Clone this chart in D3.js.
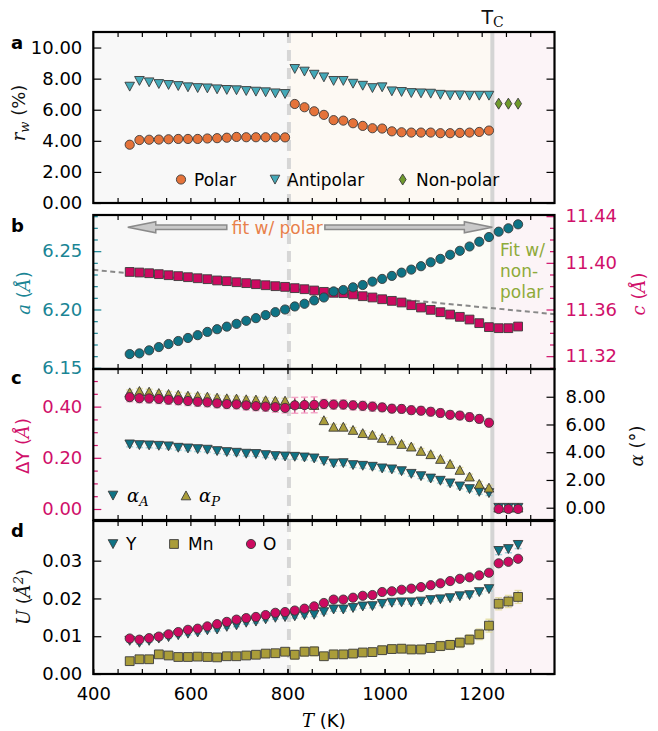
<!DOCTYPE html>
<html><head><meta charset="utf-8">
<script src="https://cdn.jsdelivr.net/npm/d3@7"></script>
<style>body{margin:0;background:#fff} svg{display:block} text{font-family:"DejaVu Sans",sans-serif}</style>
</head><body><svg id="c" width="658" height="731"></svg>
<script>
// ---------------- data ----------------
const temps = [475,495,515,535,555,575,595,615,635,655,675,695,715,735,755,775,795,815,835,855,875,895,915,935,955,975,995,1015,1035,1055,1075,1095,1115,1135,1155,1175,1195,1215];
const tempsNP = [1235,1255,1275];
const tempsAll = temps.concat(tempsNP);

// panel a: weighted R (%)
const rwPolar = [3.75,4.05,4.07,4.08,4.10,4.12,4.12,4.12,4.15,4.17,4.20,4.25,4.23,4.23,4.23,4.23,4.22,6.37,6.16,5.90,5.67,5.33,5.30,5.13,4.96,4.81,4.79,4.61,4.55,4.53,4.53,4.53,4.49,4.49,4.51,4.53,4.57,4.66];
const rwAntipolar = [7.49,7.86,7.77,7.66,7.60,7.53,7.45,7.40,7.38,7.32,7.28,7.26,7.21,7.17,7.13,7.06,7.02,8.63,8.46,8.26,8.09,7.86,7.86,7.68,7.55,7.40,7.45,7.19,7.15,7.08,7.06,7.04,6.97,6.93,6.93,6.91,6.91,6.91];
const rwNonPolar = [6.39,6.39,6.39];

// panel b: lattice parameters (Å)
const latA = [6.1618,6.1624,6.1650,6.1678,6.1704,6.1730,6.1756,6.1780,6.1808,6.1831,6.1853,6.1877,6.1903,6.1926,6.1952,6.1977,6.2000,6.2026,6.2049,6.2078,6.2103,6.2155,6.2167,6.2190,6.2210,6.2239,6.2262,6.2288,6.2316,6.2342,6.2371,6.2405,6.2434,6.2469,6.2503,6.2540,6.2581,6.2621,6.2667,6.2696,6.2730];
const latC = [11.3922,11.3917,11.3911,11.3903,11.3894,11.3886,11.3877,11.3868,11.3860,11.3849,11.3843,11.3834,11.3826,11.3817,11.3808,11.3800,11.3794,11.3783,11.3774,11.3763,11.3751,11.3743,11.3740,11.3729,11.3714,11.3703,11.3688,11.3674,11.3660,11.3637,11.3617,11.3597,11.3577,11.3557,11.3537,11.3514,11.3483,11.3449,11.3440,11.3440,11.3454];
const fitT = [400,1350];
const fitC = [11.394,11.356];

// panel c: ΔY (Å) and tilt angles (deg)
const dY = [0.437,0.433,0.432,0.430,0.427,0.425,0.422,0.419,0.417,0.413,0.410,0.409,0.405,0.402,0.400,0.398,0.395,0.405,0.406,0.407,0.410,0.408,0.408,0.405,0.403,0.400,0.397,0.392,0.391,0.386,0.384,0.380,0.375,0.368,0.365,0.359,0.352,0.337,0,0,0];
const dYerr = [0.018,0.018,0.018,0.018,0.018,0.018,0.018,0.018,0.018,0.018,0.018,0.018,0.018,0.018,0.018,0.02,0.02,0.031,0.031,0.031,0.018,0.018,0.018,0.018,0.018,0.018,0.016,0.016,0.016,0.016,0.016,0.016,0.016,0.016,0.016,0.016,0.016,0.016,0.008,0.008,0.008];
const alphaA = [4.57,4.52,4.50,4.47,4.43,4.33,4.28,4.23,4.19,4.09,4.02,3.97,3.90,3.88,3.80,3.73,3.70,3.68,3.63,3.56,3.37,3.20,3.22,3.08,3.03,2.96,2.84,2.77,2.64,2.45,2.28,2.11,1.95,1.76,1.54,1.35,1.15,1.06,0,0,0];
const alphaP = [8.31,8.41,8.36,8.26,8.19,8.14,8.07,8.05,8.00,7.93,7.88,7.86,7.81,7.79,7.74,7.71,7.71,7.47,7.47,7.40,6.30,5.83,5.83,5.60,5.37,5.25,5.03,4.85,4.59,4.40,4.09,3.85,3.51,3.15,2.72,2.24,1.71,1.44,0,0,0];
const alphaErr = 0.18;

// panel d: ADPs (Å^2)
const uY = [0.0088,0.0083,0.0088,0.0094,0.0098,0.0103,0.0107,0.0110,0.0116,0.0118,0.0125,0.0129,0.0136,0.0139,0.0145,0.0149,0.0151,0.0153,0.0156,0.0157,0.0164,0.0171,0.0171,0.0175,0.0179,0.0180,0.0186,0.0189,0.0190,0.0190,0.0192,0.0196,0.0198,0.0201,0.0206,0.0209,0.0217,0.0225,0.0326,0.0331,0.0342];
const uYerr = [0.0004,0.0004,0.0004,0.0004,0.0004,0.0004,0.0004,0.0004,0.0004,0.0004,0.0004,0.0004,0.0004,0.0004,0.0004,0.0004,0.0004,0.0005,0.0005,0.0005,0.0005,0.0005,0.0005,0.0005,0.0005,0.0005,0.0005,0.0005,0.0005,0.0005,0.0005,0.0005,0.0005,0.0005,0.0005,0.0005,0.0005,0.0005,0.0010,0.0010,0.0010];
const uMn = [0.0034,0.0039,0.0039,0.0052,0.0049,0.0045,0.0045,0.0046,0.0045,0.0044,0.0047,0.0047,0.0049,0.0051,0.0054,0.0055,0.0059,0.0051,0.0059,0.0060,0.0047,0.0052,0.0052,0.0054,0.0057,0.0058,0.0063,0.0066,0.0067,0.0065,0.0065,0.0069,0.0074,0.0077,0.0083,0.0091,0.0105,0.0128,0.0186,0.0192,0.0204];
const uMnErr = [0.0004,0.0004,0.0004,0.0004,0.0004,0.0004,0.0004,0.0004,0.0004,0.0004,0.0004,0.0004,0.0004,0.0004,0.0004,0.0004,0.0005,0.0012,0.0012,0.0012,0.0010,0.0010,0.0010,0.0010,0.0010,0.0010,0.0011,0.0011,0.0011,0.0011,0.0011,0.0011,0.0012,0.0012,0.0013,0.0013,0.0014,0.0017,0.0016,0.0016,0.0017];
const uO = [0.0094,0.0091,0.0095,0.0099,0.0105,0.0111,0.0117,0.0120,0.0126,0.0132,0.0138,0.0144,0.0148,0.0151,0.0156,0.0162,0.0164,0.0168,0.0173,0.0179,0.0188,0.0197,0.0197,0.0202,0.0207,0.0209,0.0217,0.0219,0.0223,0.0226,0.0230,0.0235,0.0240,0.0246,0.0252,0.0256,0.0261,0.0268,0.0293,0.0297,0.0305];
const uOerr = 0.0004;

// ticks
const xTickLabels = [400,600,800,1000,1200];
const ticksA = [0,2,4,6,8,10];
const ticksBa = [6.15,6.20,6.25];
const ticksBc = [11.32,11.36,11.40,11.44];
const ticksCd = [0,0.2,0.4];
const ticksCa = [0,2,4,6,8];
const ticksD = [0,0.01,0.02,0.03];

// ---------------- drawing ----------------
const svg = d3.select('#c');
const X0 = 93.3, X1 = 554.5;
const x = d3.scaleLinear().domain([400,1350]).range([X0,X1]);
const T_DASH = 803, T_C = 1222;

const P = {
  a:{top:32,bottom:203}, b:{top:215,bottom:369}, c:{top:369,bottom:520}, d:{top:521,bottom:674}
};
const yA  = d3.scaleLinear().domain([0,11]).range([P.a.bottom,P.a.top]);
const yBa = d3.scaleLinear().domain([6.149,6.281]).range([P.b.bottom,P.b.top]);
const yBc = d3.scaleLinear().domain([11.309,11.441]).range([P.b.bottom,P.b.top]);
const yCd = d3.scaleLinear().domain([-0.043,0.547]).range([P.c.bottom,P.c.top]);
const yCa = d3.scaleLinear().domain([-0.886,10]).range([P.c.bottom,P.c.top]);
const yD  = d3.scaleLinear().domain([0,0.0405]).range([P.d.bottom,P.d.top]);

const C = {
  orange:'#e5733a', lteal:'#44a9b8', green:'#6f9a2c', teal:'#0f7385', magenta:'#cc0a60',
  olive:'#aa9d3a', tealLab:'#1a8595', magLab:'#d0106a'
};

// backgrounds
function bg(p, mid){
  const g = svg.append('g');
  g.append('rect').attr('x',x(400)).attr('y',p.top).attr('width',x(T_DASH)-x(400)).attr('height',p.bottom-p.top).attr('fill','#f8f8f8');
  g.append('rect').attr('x',x(T_DASH)).attr('y',p.top).attr('width',x(T_C)-x(T_DASH)).attr('height',p.bottom-p.top).attr('fill',mid);
  g.append('rect').attr('x',x(T_C)).attr('y',p.top).attr('width',x(1350)-x(T_C)).attr('height',p.bottom-p.top).attr('fill','#fcf4f7');
  g.append('line').attr('x1',x(T_DASH)).attr('x2',x(T_DASH)).attr('y1',p.top).attr('y2',p.bottom)
    .attr('stroke','#d6d6d6').attr('stroke-width',4).attr('stroke-dasharray','11,7');
  g.append('line').attr('x1',x(T_C)).attr('x2',x(T_C)).attr('y1',p.top).attr('y2',p.bottom)
    .attr('stroke','#d4d4d4').attr('stroke-width',4);
}
bg(P.a,'#fdf9f3'); bg(P.b,'#fcfcf7'); bg(P.c,'#fcfcf7'); bg(P.d,'#fcfcf7');

// marker shapes
const shapes = {
  circle: r => `M${r},0A${r},${r} 0 1,1 ${-r},0A${r},${r} 0 1,1 ${r},0Z`,
  down: s => `M${-s},${-s*0.9}L${s},${-s*0.9}L0,${s*0.95}Z`,
  up: s => `M${-s},${s*0.9}L${s},${s*0.9}L0,${-s*0.95}Z`,
  square: s => `M${-s},${-s}H${s}V${s}H${-s}Z`,
  diamond: s => `M0,${-s*1.2}L${s*0.75},0L0,${s*1.2}L${-s*0.75},0Z`
};
function markers(xs, ys, ysc, d, fill){
  svg.append('g').selectAll('path').data(xs.map((t,i)=>[t,ys[i]])).join('path')
    .attr('transform', v=>`translate(${x(v[0])},${ysc(v[1])})`)
    .attr('d', d).attr('fill', fill).attr('stroke','#3a3a3a').attr('stroke-width',0.9);
}
function errbars(xs, ys, es, ysc, color, cap){
  const g = svg.append('g').attr('stroke',color).attr('stroke-width',1.4).attr('opacity',0.75);
  xs.forEach((t,i)=>{
    const e = Array.isArray(es) ? es[i] : es;
    const cx = x(t), y1 = ysc(ys[i]-e), y2 = ysc(ys[i]+e);
    g.append('line').attr('x1',cx).attr('x2',cx).attr('y1',y1).attr('y2',y2);
    g.append('line').attr('x1',cx-3.5).attr('x2',cx+3.5).attr('y1',y1).attr('y2',y1).attr('stroke',cap);
    g.append('line').attr('x1',cx-3.5).attr('x2',cx+3.5).attr('y1',y2).attr('y2',y2).attr('stroke',cap);
  });
}

// panel a
markers(temps, rwPolar, yA, shapes.circle(4.6), C.orange);
markers(temps, rwAntipolar, yA, shapes.down(4.8), C.lteal);
markers(tempsNP, rwNonPolar, yA, shapes.diamond(4.6), C.green);

// panel b
svg.append('path').datum(fitT.map((t,i)=>[t,fitC[i]]))
  .attr('d', d3.line().x(d=>x(d[0])).y(d=>yBc(d[1])))
  .attr('fill','none').attr('stroke','#888').attr('stroke-width',2).attr('stroke-dasharray','5,3.5');
markers(tempsAll, latC, yBc, shapes.square(4.4), C.magenta);
markers(tempsAll, latA, yBa, shapes.circle(4.6), C.teal);

// arrows + annotations in panel b
const arrowY = 6.2705;
function arrow(tTail, tHead){
  const xt = x(tTail), xh = x(tHead), yy = yBa(arrowY);
  const dir = Math.sign(xh-xt), hl = 28, sh = 2.2, hh = 5.5;
  const pts = [[xt,yy-sh],[xh-dir*hl,yy-sh],[xh-dir*hl,yy-hh],[xh,yy],[xh-dir*hl,yy+hh],[xh-dir*hl,yy+sh],[xt,yy+sh]];
  svg.append('path').attr('d','M'+pts.map(p=>p.join(',')).join('L')+'Z')
    .attr('fill','#c9c9c9').attr('stroke','#8a8a8a').attr('stroke-width',1.5);
}
arrow(675, 471);
arrow(877, 1222);
svg.append('text').attr('x',x(779)).attr('y',233.5).attr('text-anchor','middle')
  .attr('font-size',17).attr('fill','#e8804a').text('fit w/ polar');
const npText = svg.append('text').attr('font-size',17).attr('fill','#8eaa3a');
['Fit w/','non-','polar'].forEach((s,i)=>npText.append('tspan').attr('x',500).attr('y',256+i*21).text(s));

// panel c
errbars(tempsAll, alphaP, alphaErr, yCa, '#b8ae50', '#e0d890');
errbars(tempsAll, alphaA, alphaErr, yCa, '#2a8a9a', '#80c8d4');
errbars(tempsAll, dY, dYerr, yCd, C.magenta, '#f08ab8');
markers(tempsAll, alphaA, yCa, shapes.down(4.8), C.teal);
markers(tempsAll, alphaP, yCa, shapes.up(4.8), C.olive);
markers(tempsAll, dY, yCd, shapes.circle(4.6), C.magenta);

// panel d
errbars(tempsAll, uMn, uMnErr, yD, '#b8ae50', '#e0d890');
errbars(tempsAll, uY, uYerr, yD, '#2a8a9a', '#80c8d4');
errbars(tempsAll, uO, uOerr, yD, C.magenta, '#f08ab8');
markers(tempsAll, uMn, yD, shapes.square(4.4), C.olive);
markers(tempsAll, uY, yD, shapes.down(4.8), C.teal);
markers(tempsAll, uO, yD, shapes.circle(4.6), C.magenta);

// frames and axes
function styleAxis(g, color, labels){
  g.select('.domain').remove();
  g.selectAll('.tick line').attr('stroke',color).attr('stroke-width',1.2);
  g.selectAll('.tick text').attr('font-family','DejaVu Sans').attr('font-size',18).attr('fill',color);
  if(!labels) g.selectAll('.tick text').remove();
}
function yAxis(scale, side, major, minorStep, fmt, color, labels){
  const X = side==='left' ? X0 : X1;
  const mk = side==='left' ? d3.axisLeft : d3.axisRight;
  const g = svg.append('g').attr('transform',`translate(${X},0)`)
    .call(mk(scale).tickValues(major).tickSizeInner(-8).tickSizeOuter(0).tickPadding(11).tickFormat(d3.format(fmt)));
  styleAxis(g, color, labels);
  if(minorStep){
    const dom = scale.domain();
    const vals = d3.range(Math.ceil(dom[0]/minorStep-1e-6)*minorStep, dom[1]+1e-9, minorStep)
      .filter(v => !major.some(m=>Math.abs(m-v)<minorStep/10));
    const gm = svg.append('g').attr('transform',`translate(${X},0)`)
      .call(mk(scale).tickValues(vals).tickSizeInner(-4.5).tickSizeOuter(0).tickFormat(''));
    styleAxis(gm, color, false);
  }
}
function xAxes(p, labels){
  const minor = d3.range(450,1350,50);
  const gt = svg.append('g').attr('transform',`translate(0,${p.top})`)
    .call(d3.axisTop(x).tickValues(minor).tickSizeInner(-5).tickSizeOuter(0).tickFormat(''));
  styleAxis(gt,'#000',false);
  const gb = svg.append('g').attr('transform',`translate(0,${p.bottom})`)
    .call(d3.axisBottom(x).tickValues(minor).tickSizeInner(-5).tickSizeOuter(0).tickFormat(''));
  styleAxis(gb,'#000',false);
  if(labels){
    const gl = svg.append('g').attr('transform',`translate(0,${p.bottom})`)
      .call(d3.axisBottom(x).tickValues(xTickLabels).tickSizeInner(-5).tickSizeOuter(0).tickPadding(13).tickFormat(d3.format('d')));
    styleAxis(gl,'#000',true);
  }
}
Object.values(P).forEach((p,i)=>xAxes(p, i===3));

yAxis(yA,'left',ticksA,null,'.2f','#000',true);
yAxis(yA,'right',ticksA,null,'.2f','#000',false);
yAxis(yBa,'left',ticksBa,0.01,'.2f',C.tealLab,true);
yAxis(yBc,'right',ticksBc,0.01,'.2f',C.magLab,true);
yAxis(yCd,'left',ticksCd,0.05,'.2f',C.magLab,true);
yAxis(yCa,'right',ticksCa,null,'.2f','#000',true);
yAxis(yD,'left',ticksD,null,'.2f','#000',true);
yAxis(yD,'right',ticksD,null,'.2f','#000',false);

Object.values(P).forEach(p=>{
  svg.append('rect').attr('x',X0).attr('y',p.top).attr('width',X1-X0).attr('height',p.bottom-p.top)
    .attr('fill','none').attr('stroke','#000').attr('stroke-width',2.2);
});

// panel letters
[['a',49],['b',231.5],['c',384],['d',537]].forEach(([s,y])=>
  svg.append('text').attr('x',11).attr('y',y).attr('font-weight','bold').attr('font-size',18).text(s));

// Tc label
const tc = svg.append('text').attr('x',481.5).attr('y',24).attr('font-size',19).attr('fill','#111');
tc.append('tspan').text('T');
tc.append('tspan').attr('font-family','DejaVu Serif').attr('font-size',14).attr('dy',3).text('C');

// rotated axis labels
function rotLabel(cx, cy, parts, color){
  const t = svg.append('text').attr('transform',`translate(${cx},${cy}) rotate(-90)`)
    .attr('text-anchor','middle').attr('fill',color).attr('font-size',18);
  parts.forEach(p=>{
    const s = t.append('tspan').text(p.t);
    if(p.i) s.attr('font-family','DejaVu Serif').attr('font-style','italic');
    if(p.fs) s.attr('font-size',p.fs);
    if(p.dy) s.attr('dy',p.dy);
  });
}
rotLabel(25, 113, [{t:'r',i:1},{t:'w',i:1,fs:13,dy:4},{t:' (%)',dy:-4}], '#111');
rotLabel(30, 293, [{t:'a',i:1},{t:' ('},{t:'Å',i:1},{t:')'}], C.tealLab);
rotLabel(29, 446, [{t:'ΔY ('},{t:'Å',i:1},{t:')'}], C.magLab);
rotLabel(30, 597, [{t:'U',i:1},{t:' ('},{t:'Å',i:1},{t:'2',i:1,fs:13,dy:-7},{t:')',dy:7}], '#111');
rotLabel(645, 294, [{t:'c',i:1},{t:' ('},{t:'Å',i:1},{t:')'}], C.magLab);
rotLabel(643, 446, [{t:'α',i:1},{t:' ('},{t:'°',i:1},{t:')'}], '#111');

// x label
const xl = svg.append('text').attr('x',(X0+X1)/2).attr('y',727).attr('text-anchor','middle').attr('font-size',18);
xl.append('tspan').attr('font-family','DejaVu Serif').attr('font-style','italic').text('T');
xl.append('tspan').text(' (K)');

// legends
function legItem(px, py, d, fill, label, tx){
  svg.append('path').attr('transform',`translate(${px},${py})`).attr('d',d).attr('fill',fill).attr('stroke','#3a3a3a').attr('stroke-width',0.9);
  const t = svg.append('text').attr('x',tx).attr('y',py+6).attr('font-size',17);
  label(t);
}
legItem(181,179.5,shapes.circle(4.6),C.orange,t=>t.text('Polar'),194);
legItem(275,179.5,shapes.down(4.8),C.lteal,t=>t.text('Antipolar'),287);
legItem(402.7,179.5,shapes.diamond(4.6),C.green,t=>t.text('Non-polar'),416);

function greekSub(t, sub){
  t.append('tspan').attr('font-family','DejaVu Serif').attr('font-style','italic').attr('font-size',18).text('α');
  t.append('tspan').attr('font-family','DejaVu Serif').attr('font-style','italic').attr('font-size',13).attr('dy',4).text(sub);
}
legItem(113,495.5,shapes.down(4.8),C.teal,t=>greekSub(t,'A'),127);
legItem(186,495.5,shapes.up(4.8),C.olive,t=>greekSub(t,'P'),199);

legItem(113,544,shapes.down(4.8),C.teal,t=>t.text('Y'),126);
legItem(174,544,shapes.square(4.4),C.olive,t=>t.text('Mn'),188);
legItem(251,544,shapes.circle(4.6),C.magenta,t=>t.text('O'),263);
</script></body></html>
